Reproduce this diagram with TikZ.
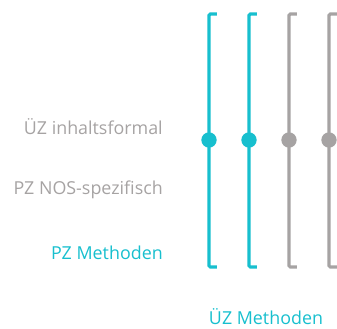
\documentclass[tikz,border=0pt]{standalone}
\usepackage{fontspec}
\setmainfont{Open Sans}
\usetikzlibrary{positioning}
\definecolor{ozCyan}{HTML}{17BFCE}
\definecolor{ozGray}{HTML}{A6A3A3}
\tikzset{
  scalelabel/.style={font=\fontsize{13.4}{15}\selectfont, anchor=east, inner sep=0pt},
  ruler/.style={line width=2.3pt, rounded corners=1pt},
  knob/.style={circle, minimum size=11.5pt, inner sep=0pt}
}
\begin{document}
\begin{tikzpicture}[x=0.75pt, y=-0.75pt]
  \useasboundingbox (0,0) rectangle (337,329);
  % labels on the left
  \node[scalelabel, text=ozGray] (inh) at (163,127) {ÜZ inhaltsformal};
  \node[scalelabel, text=ozGray] (nos) at (163,190) {PZ NOS-spezifisch};
  \node[scalelabel, text=ozCyan] (met) at (163,253) {PZ Methoden};
  % four rulers
  \foreach \i/\x/\c in {1/209/ozCyan, 2/249/ozCyan, 3/289/ozGray, 4/329/ozGray} {
    \coordinate (t\i) at (\x,14);
    \coordinate (b\i) at (\x,267);
    \draw[ruler, draw=\c] ([xshift=6pt]t\i) -- (t\i) -- (b\i) -- ([xshift=6pt]b\i);
    \node[knob, fill=\c] (k\i) at (\x,140) {};
  }
  \node[font=\fontsize{13.4}{15}\selectfont, text=ozCyan] (uzm) at (266,317) {ÜZ Methoden};
\end{tikzpicture}
\end{document}
